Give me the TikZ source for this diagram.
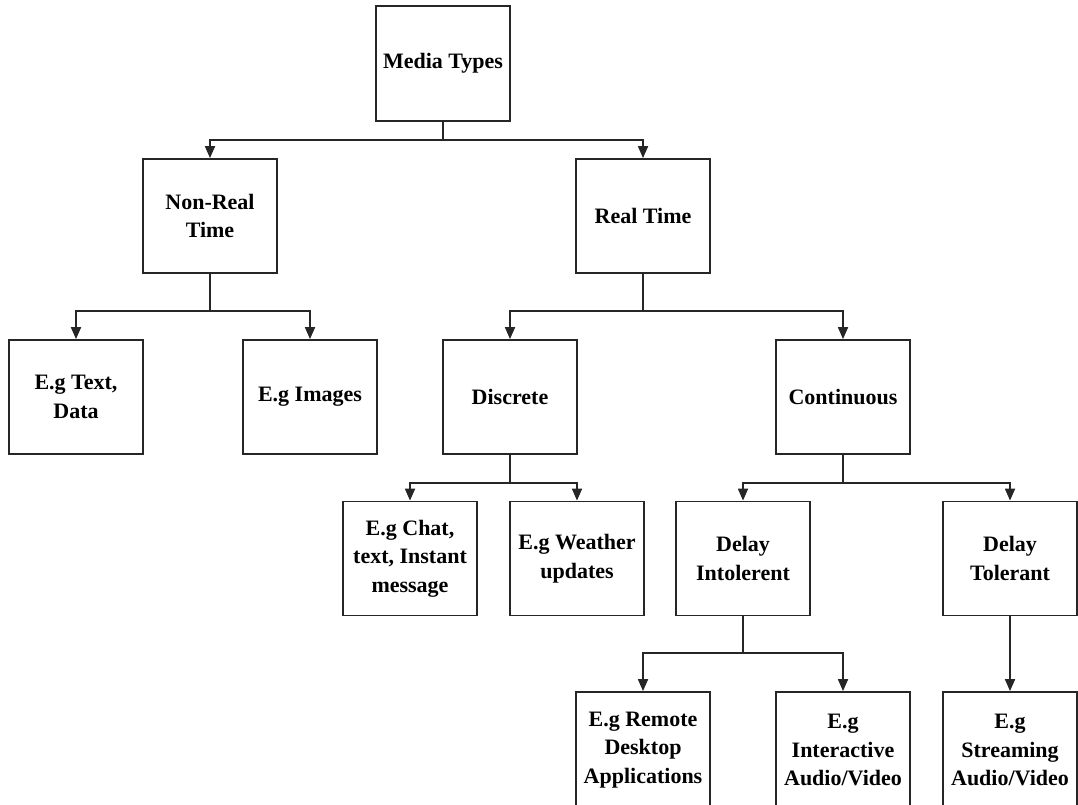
\documentclass[tikz,border=0pt]{standalone}
\usepackage{fontspec}
\setmainfont{Liberation Serif}
\usetikzlibrary{arrows.meta}
\begin{document}
\begin{tikzpicture}[x=1pt,y=-1pt,
  box/.style={draw=black!85, line width=1.8pt, minimum width=134pt,
    minimum height=114pt, align=center, inner sep=2pt,
    font=\fontsize{22}{28.5}\selectfont\bfseries},
  tallbox/.style={box, minimum height=116pt},
  link/.style={draw=black!85, line width=1.8pt},
  arr/.style={link, -{Triangle[length=12pt,width=10pt]}}]
\useasboundingbox (0,0) rectangle (1078,805);

% level 0
\node[box, minimum height=115pt] (media) at (443,63.5) {Media Types};

% level 1
\node[box] (nrt) at (210,216) {Non-Real\\Time};
\node[box] (rt)  at (643,216) {Real Time};

% level 2
\node[box] (txt)  at (76,397)  {E.g Text,\\Data};
\node[box] (img)  at (310,397) {E.g Images};
\node[box] (disc) at (510,397) {Discrete};
\node[box] (cont) at (843,397) {Continuous};

% level 3
\node[box] (chat)  at (410,558.5)  {E.g Chat,\\text, Instant\\message};
\node[box] (wthr)  at (577,558.5)  {E.g Weather\\updates};
\node[box] (dint)  at (743,558.5)  {Delay\\Intolerent};
\node[box] (dtol)  at (1010,558.5) {Delay\\Tolerant};

% level 4
\node[tallbox] (remote) at (643,750)  {E.g Remote\\Desktop\\Applications};
\node[tallbox] (inter)  at (843,750)  {E.g\\Interactive\\Audio/Video};
\node[tallbox] (stream) at (1010,750) {E.g\\Streaming\\Audio/Video};

% branch points
\coordinate (j0) at (443,140);
\coordinate (j1) at (210,311);
\coordinate (j2) at (643,311);
\coordinate (j3) at (510,483);
\coordinate (j4) at (843,483);
\coordinate (j5) at (743,653);

% connectors
\draw[link] (media.south) -- (j0);
\draw[arr] (j0) -| (nrt.north);
\draw[arr] (j0) -| (rt.north);

\draw[link] (nrt.south) -- (j1);
\draw[arr] (j1) -| (txt.north);
\draw[arr] (j1) -| (img.north);

\draw[link] (rt.south) -- (j2);
\draw[arr] (j2) -| (disc.north);
\draw[arr] (j2) -| (cont.north);

\draw[link] (disc.south) -- (j3);
\draw[arr] (j3) -| (chat.north);
\draw[arr] (j3) -| (wthr.north);

\draw[link] (cont.south) -- (j4);
\draw[arr] (j4) -| (dint.north);
\draw[arr] (j4) -| (dtol.north);

\draw[link] (dint.south) -- (j5);
\draw[arr] (j5) -| (remote.north);
\draw[arr] (j5) -| (inter.north);

\draw[arr] (dtol.south) -- (stream.north);
\end{tikzpicture}
\end{document}
